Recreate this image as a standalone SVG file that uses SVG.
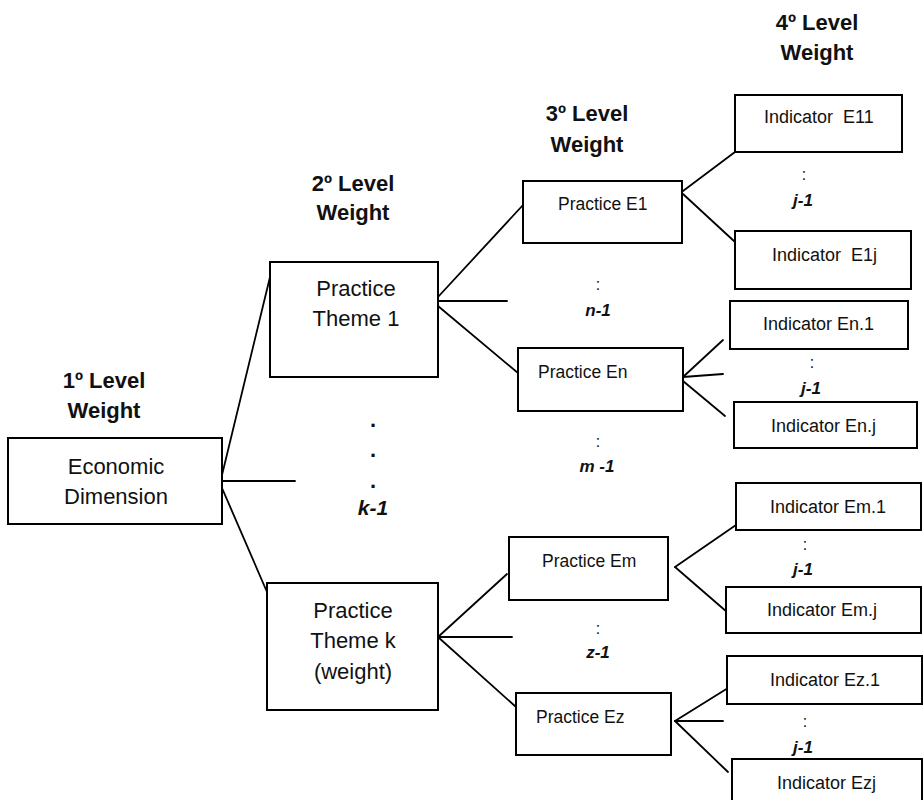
<svg xmlns="http://www.w3.org/2000/svg" width="924" height="800" viewBox="0 0 924 800">
<style>
.box{fill:#fff;stroke:#000;stroke-width:2}
.ln{stroke:#000;stroke-width:1.8;fill:none;stroke-linecap:round}
text{font-family:"Liberation Sans",Arial,sans-serif;fill:#111}
.hd{font-weight:bold;font-size:22px;text-anchor:middle}
.big{font-size:22px;text-anchor:middle}
.pr{font-size:17.5px}
.ind{font-size:18px}
.it{font-weight:bold;font-style:italic;font-size:17px;text-anchor:middle}
.col{font-size:16px;text-anchor:middle}
.dot{font-weight:bold;font-size:22px;text-anchor:middle}
</style>
<rect width="924" height="800" fill="#fff"/>
<g id="headers">
<text class="hd" x="104" y="388">1º Level</text>
<text class="hd" x="104" y="418">Weight</text>
<text class="hd" x="353" y="191">2º Level</text>
<text class="hd" x="353" y="220">Weight</text>
<text class="hd" x="587" y="121">3º Level</text>
<text class="hd" x="587" y="152">Weight</text>
<text class="hd" x="817" y="30">4º Level</text>
<text class="hd" x="817" y="60">Weight</text>
</g>
<g id="connectors">
<line class="ln" x1="222" y1="475" x2="270" y2="277"/>
<line class="ln" x1="222" y1="481" x2="295" y2="481"/>
<line class="ln" x1="222" y1="488" x2="267" y2="592"/>
<line class="ln" x1="438" y1="297" x2="523" y2="205"/>
<line class="ln" x1="438" y1="301" x2="507" y2="301"/>
<line class="ln" x1="438" y1="306" x2="518" y2="373"/>
<line class="ln" x1="683" y1="191" x2="735" y2="152"/>
<line class="ln" x1="683" y1="194" x2="735" y2="242"/>
<line class="ln" x1="723" y1="340" x2="683" y2="377"/>
<line class="ln" x1="723" y1="374" x2="683" y2="377"/>
<line class="ln" x1="725" y1="416" x2="683" y2="381"/>
<line class="ln" x1="438" y1="637" x2="507" y2="574"/>
<line class="ln" x1="438" y1="637" x2="512" y2="637"/>
<line class="ln" x1="438" y1="637" x2="516" y2="707"/>
<line class="ln" x1="675" y1="567" x2="736" y2="525"/>
<line class="ln" x1="675" y1="567" x2="727" y2="612"/>
<line class="ln" x1="675" y1="721" x2="728" y2="688"/>
<line class="ln" x1="675" y1="721" x2="723" y2="721"/>
<line class="ln" x1="675" y1="721" x2="728" y2="772"/>
</g>
<g id="econ"><rect class="box" x="8" y="438" width="214" height="86"/>
<text class="big" x="116" y="474">Economic</text><text class="big" x="116" y="504">Dimension</text></g>
<g id="theme1"><rect class="box" x="270" y="262" width="168" height="115"/>
<text class="big" x="356" y="296">Practice</text><text class="big" x="356" y="326">Theme 1</text></g>
<g id="themek"><rect class="box" x="267" y="583" width="171" height="127"/>
<text class="big" x="353" y="618">Practice</text><text class="big" x="353" y="648">Theme k</text><text class="big" x="353" y="679">(weight)</text></g>
<g id="pE1"><rect class="box" x="523" y="181" width="159" height="62"/><text class="pr" x="558" y="210">Practice E1</text></g>
<g id="pEn"><rect class="box" x="518" y="348" width="165" height="63"/><text class="pr" x="538" y="378">Practice En</text></g>
<g id="pEm"><rect class="box" x="509" y="537" width="159" height="63"/><text class="pr" x="542" y="567">Practice Em</text></g>
<g id="pEz"><rect class="box" x="516" y="693" width="155" height="62"/><text class="pr" x="536" y="723">Practice Ez</text></g>
<g id="iE11"><rect class="box" x="735" y="95" width="167" height="57"/><text class="ind" x="764" y="123" xml:space="preserve">Indicator  E11</text></g>
<g id="iE1j"><rect class="box" x="735" y="231" width="176" height="58"/><text class="ind" x="772" y="261" xml:space="preserve">Indicator  E1j</text></g>
<g id="iEn1"><rect class="box" x="730" y="301" width="178" height="48"/><text class="ind" x="763" y="330">Indicator En.1</text></g>
<g id="iEnj"><rect class="box" x="734" y="402" width="183" height="46"/><text class="ind" x="771" y="432">Indicator En.j</text></g>
<g id="iEm1"><rect class="box" x="736" y="483" width="185" height="47"/><text class="ind" x="770" y="513">Indicator Em.1</text></g>
<g id="iEmj"><rect class="box" x="726" y="587" width="195" height="46"/><text class="ind" x="767" y="616">Indicator Em.j</text></g>
<g id="iEz1"><rect class="box" x="727" y="656" width="195" height="48"/><text class="ind" x="770" y="686">Indicator Ez.1</text></g>
<g id="iEzj"><rect class="box" x="732" y="759" width="190" height="50"/><text class="ind" x="777" y="789">Indicator Ezj</text></g>
<g id="labels">
<text class="dot" x="373" y="427">.</text>
<text class="dot" x="373" y="457">.</text>
<text class="dot" x="373" y="488">.</text>
<text class="it" x="373" y="515" style="font-size:21px">k-1</text>
<text class="col" x="598" y="290">:</text>
<text class="it" x="598" y="316">n-1</text>
<text class="col" x="598" y="447">:</text>
<text class="it" x="597" y="472">m -1</text>
<text class="col" x="598" y="634">:</text>
<text class="it" x="598" y="658">z-1</text>
<text class="col" x="804" y="180">:</text>
<text class="it" x="803" y="206">j-1</text>
<text class="col" x="812" y="368">:</text>
<text class="it" x="811" y="394">j-1</text>
<text class="col" x="805" y="550">:</text>
<text class="it" x="803" y="575">j-1</text>
<text class="col" x="805" y="727">:</text>
<text class="it" x="803" y="753">j-1</text>
</g>
</svg>
